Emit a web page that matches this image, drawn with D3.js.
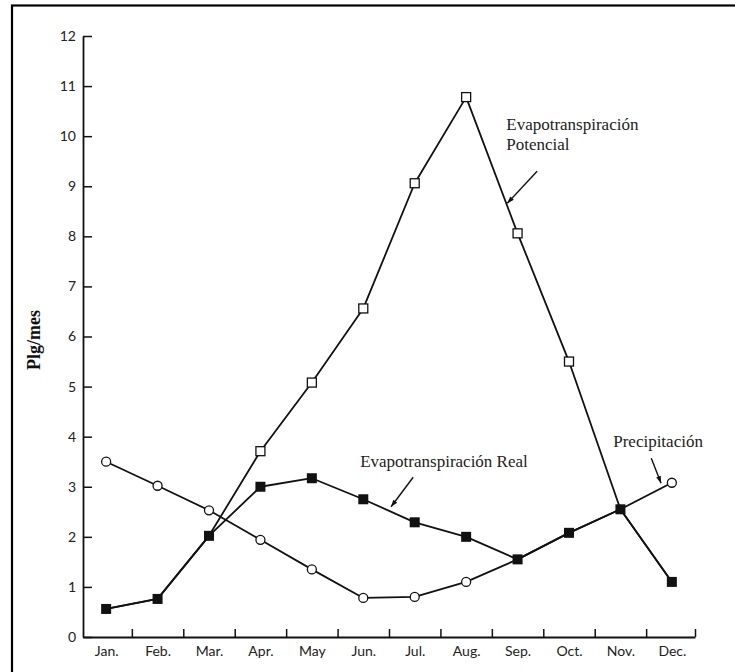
<!DOCTYPE html>
<html>
<head>
<meta charset="utf-8">
<script src="https://cdn.jsdelivr.net/npm/d3@7"></script>
<style>
  html, body { margin: 0; padding: 0; background: #fff; }
  svg { display: block; }
</style>
</head>
<body>
<svg id="chart" width="735" height="672"></svg>
<script>
// ---- data (inches per month) ----
const months = ["Jan.", "Feb.", "Mar.", "Apr.", "May", "Jun.", "Jul.", "Aug.", "Sep.", "Oct.", "Nov.", "Dec."];
const precipitacion = [3.5, 3.02, 2.53, 1.94, 1.35, 0.78, 0.8, 1.1, 1.55, 2.08, 2.55, 3.08];
const etPotencial   = [0.56, 0.76, 2.02, 3.71, 5.08, 6.56, 9.06, 10.78, 8.06, 5.5, 2.55, 1.1];
const etReal        = [0.56, 0.76, 2.02, 3.0, 3.17, 2.75, 2.29, 2.0, 1.55, 2.08, 2.55, 1.1];
const yTicks = [0, 1, 2, 3, 4, 5, 6, 7, 8, 9, 10, 11, 12];
const yLabel = "Plg/mes";

// annotations in data units: [monthIndex, value]
const annotations = [
  { lines: ["Evapotranspiración", "Potencial"], text: [7.78, 10.12], tail: [8.38, 9.3], tip: [7.8, 8.66] },
  { lines: ["Evapotranspiración Real"], text: [4.94, 3.39], tail: [5.97, 3.19], tip: [5.54, 2.6] },
  { lines: ["Precipitación"], text: [9.86, 3.79], tail: [10.6, 3.57], tip: [10.79, 3.07] }
];

// ---- layout ----
const svg = d3.select("#chart");
const x = d3.scaleLinear().domain([-0.45, 11.45]).range([83, 695]);
const y = d3.scaleLinear().domain([0, 12]).range([637, 36]);
const idx = months.map((m, i) => i);

// outer frame
svg.append("rect")
  .attr("x", 12).attr("y", 5.5).attr("width", 760).attr("height", 700)
  .attr("fill", "none").attr("stroke", "#000").attr("stroke-width", 2.2);

svg.append("defs").append("marker")
  .attr("id", "arrow").attr("viewBox", "0 0 10 10")
  .attr("refX", 10).attr("refY", 5)
  .attr("markerWidth", 9).attr("markerHeight", 7)
  .attr("markerUnits", "userSpaceOnUse")
  .attr("orient", "auto")
  .append("path").attr("d", "M0,1.5 L10,5 L0,8.5 Z").attr("fill", "#111");

const tickFont = "Lato, 'Open Sans', sans-serif";

// y axis
const yAxis = svg.append("g").attr("transform", `translate(${x.range()[0]},0)`)
  .call(d3.axisLeft(y).tickValues(yTicks).tickSize(-9).tickPadding(7).tickSizeOuter(0));
yAxis.select(".domain").attr("stroke", "#111").attr("stroke-width", 1.8);
yAxis.selectAll(".tick line").attr("stroke", "#111").attr("stroke-width", 1.5);
yAxis.selectAll(".tick text").attr("font-family", tickFont).attr("font-size", 14).attr("fill", "#222");

// x axis: separators between months + end tick
const sepVals = d3.range(0.5, 11, 1).concat([x.domain()[1]]);
const xAxis = svg.append("g").attr("transform", `translate(0,${y(0)})`)
  .call(d3.axisBottom(x).tickValues(sepVals).tickSize(-8).tickFormat("").tickSizeOuter(0));
xAxis.select(".domain").attr("stroke", "#111").attr("stroke-width", 1.8);
xAxis.selectAll(".tick line").attr("stroke", "#111").attr("stroke-width", 1.5);

const xLab = svg.append("g").attr("transform", `translate(0,${y(0)})`)
  .call(d3.axisBottom(x).tickValues(idx).tickSize(0).tickPadding(9).tickFormat(i => months[i]));
xLab.select(".domain").remove();
xLab.selectAll(".tick text").attr("font-family", tickFont).attr("font-size", 14).attr("fill", "#222");

// y label
svg.append("text")
  .attr("transform", "translate(40,340) rotate(-90)")
  .attr("text-anchor", "middle")
  .attr("font-family", "'Liberation Serif', 'Times New Roman', serif")
  .attr("font-weight", "bold").attr("font-size", 18).attr("fill", "#111")
  .text(yLabel);

// lines
const line = d3.line().x((d, i) => x(i)).y(d => y(d));
[precipitacion, etPotencial, etReal].forEach(s => {
  svg.append("path").datum(s).attr("d", line)
    .attr("fill", "none").attr("stroke", "#111").attr("stroke-width", 1.8)
    .attr("stroke-linejoin", "round");
});

// markers: open circles (precip), open squares (potential), filled squares (real)
svg.append("g").selectAll("circle")
  .data(idx.filter(i => precipitacion[i] !== etReal[i]))
  .join("circle")
  .attr("cx", i => x(i)).attr("cy", i => y(precipitacion[i])).attr("r", 4.5)
  .attr("fill", "#fff").attr("stroke", "#111").attr("stroke-width", 1.3);

const so = 9;
svg.append("g").selectAll("rect")
  .data(idx.filter(i => etPotencial[i] !== etReal[i]))
  .join("rect")
  .attr("x", i => x(i) - so / 2).attr("y", i => y(etPotencial[i]) - so / 2)
  .attr("width", so).attr("height", so)
  .attr("fill", "#fff").attr("stroke", "#111").attr("stroke-width", 1.3);

const sf = 10;
svg.append("g").selectAll("rect")
  .data(idx)
  .join("rect")
  .attr("x", i => x(i) - sf / 2).attr("y", i => y(etReal[i]) - sf / 2)
  .attr("width", sf).attr("height", sf)
  .attr("fill", "#111");

// annotations
const serif = "'Liberation Serif', 'Times New Roman', serif";
annotations.forEach(a => {
  const t = svg.append("text")
    .attr("x", x(a.text[0])).attr("y", y(a.text[1]))
    .attr("font-family", serif).attr("font-size", 17).attr("fill", "#222");
  a.lines.forEach((l, k) => {
    t.append("tspan").attr("x", x(a.text[0])).attr("dy", k === 0 ? 0 : 20).text(l);
  });
  svg.append("line")
    .attr("x1", x(a.tail[0])).attr("y1", y(a.tail[1]))
    .attr("x2", x(a.tip[0])).attr("y2", y(a.tip[1]))
    .attr("stroke", "#111").attr("stroke-width", 1.4)
    .attr("marker-end", "url(#arrow)");
});
</script>
</body>
</html>
